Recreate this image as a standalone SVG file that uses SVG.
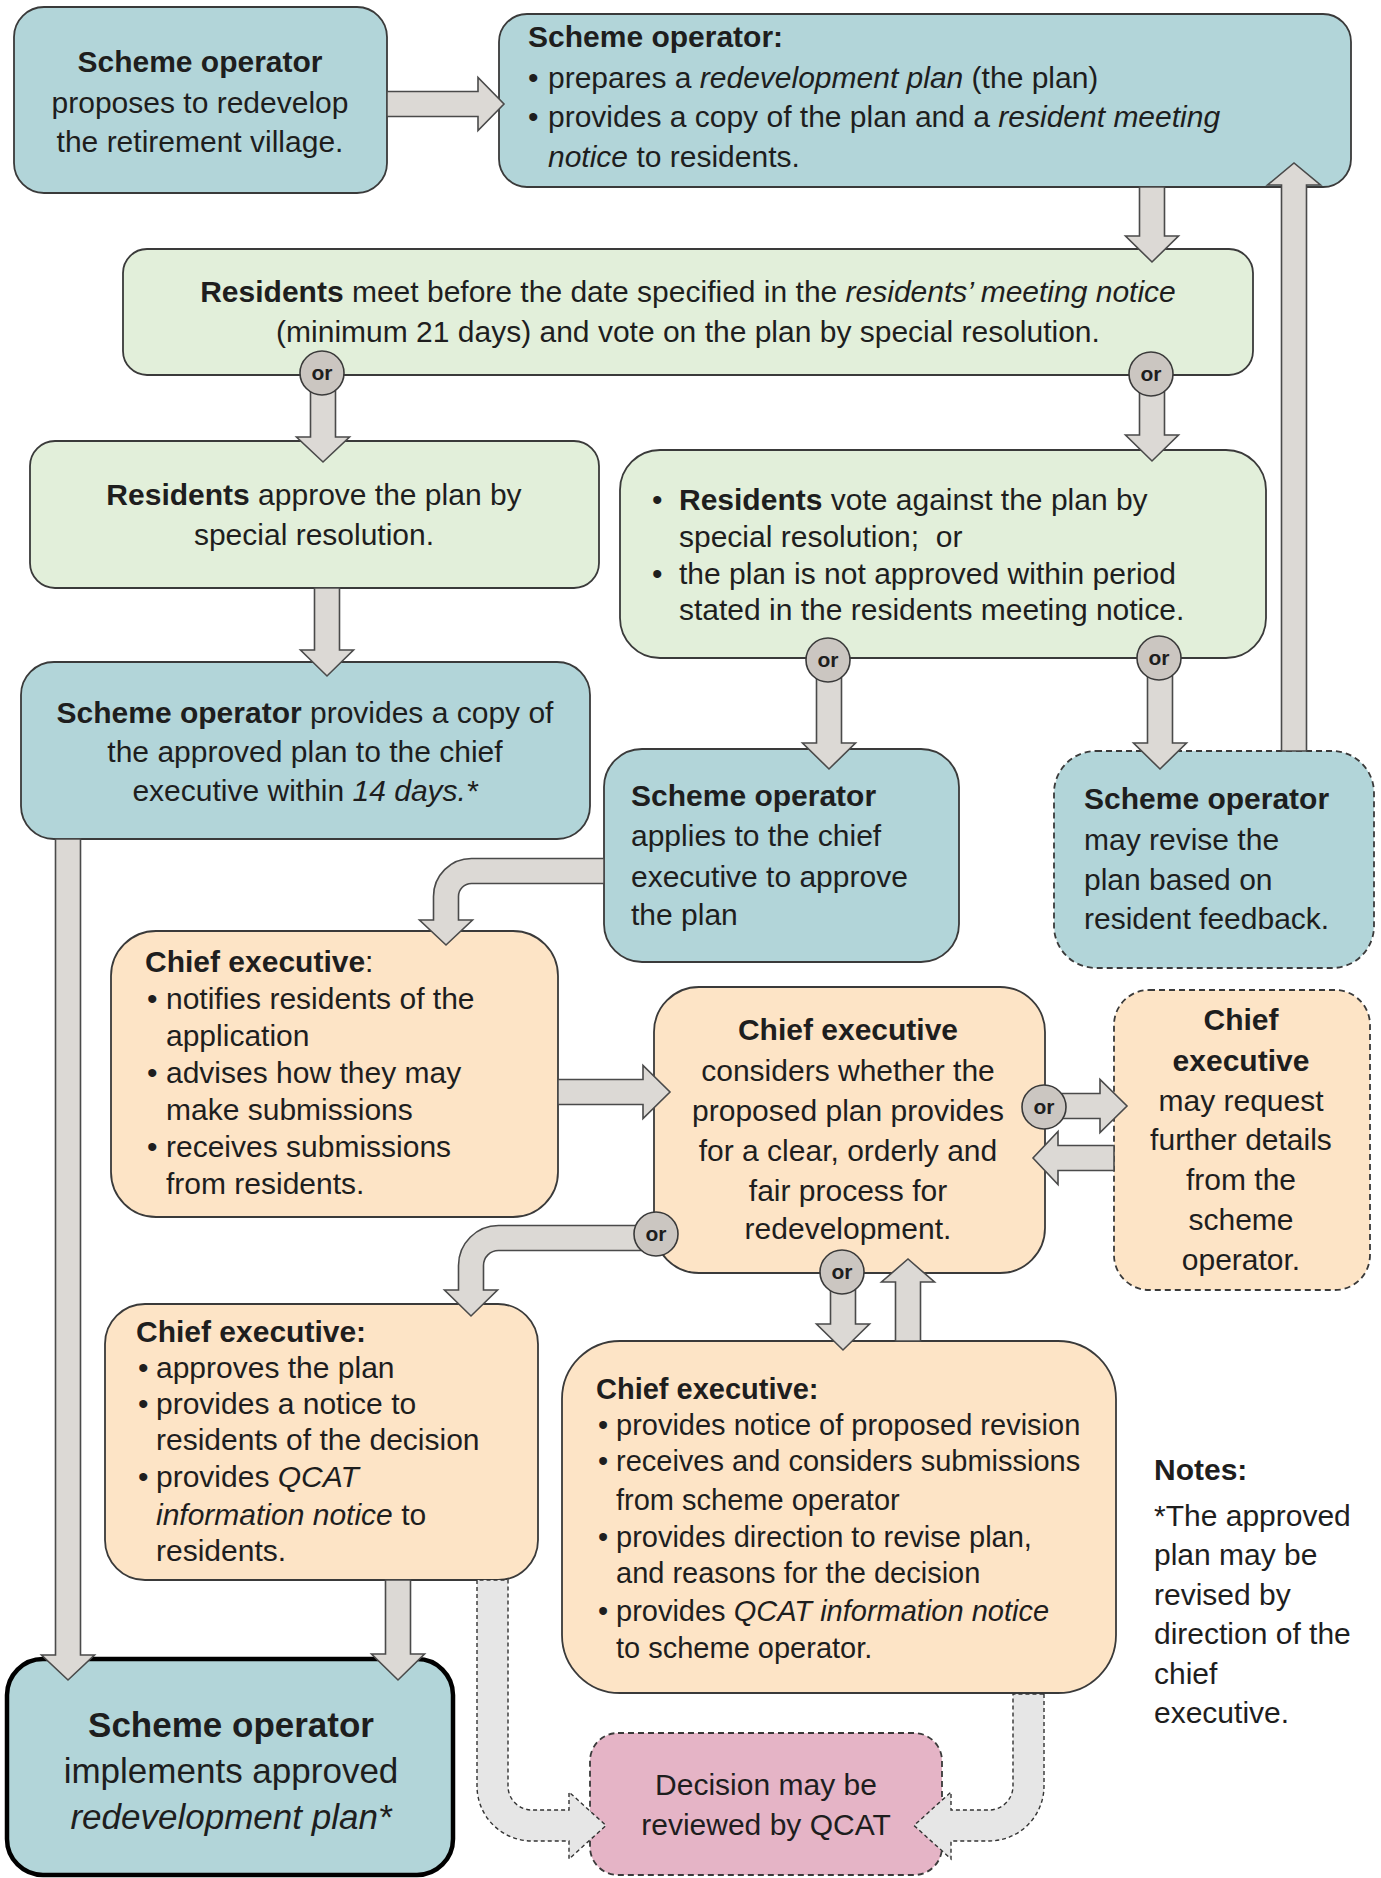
<svg xmlns="http://www.w3.org/2000/svg" width="1381" height="1878" viewBox="0 0 1381 1878">
<style>
.box{stroke:#3a3a3a;stroke-width:1.8}
.teal{fill:#b2d5d9}
.green{fill:#e2efda}
.orange{fill:#fde4c6}
.pink{fill:#e5b4c6}
.dash{stroke-dasharray:6 4}
.thick{stroke:#000;stroke-width:4.5}
.arr{fill:#dcd9d5;stroke:#4a4a4a;stroke-width:1.6}
.darr{fill:#e6e6e6;stroke:#333;stroke-width:1.4;stroke-dasharray:4 3}
.or{fill:#cbc6c1;stroke:#3a3a3a;stroke-width:1.6}
text{font-family:"Liberation Sans",Arial,sans-serif;font-size:30px;fill:#1e1e1e}
.b{font-weight:bold}
.i{font-style:italic}
.c{text-anchor:middle}
.m{font-size:29px}
.ort{font-size:21px;font-weight:bold;text-anchor:middle}
</style>
<rect width="1381" height="1878" fill="#fff"/>

<g id="nodeA">
<rect class="box teal" x="14" y="7" width="373" height="186" rx="30"/>
<text class="c" x="200" y="72"><tspan class="b">Scheme operator</tspan></text>
<text class="c" x="200" y="113">proposes to redevelop</text>
<text class="c" x="200" y="152">the retirement village.</text>
</g>

<g id="nodeB">
<rect class="box teal" x="499" y="14" width="852" height="173" rx="28"/>
<text x="528" y="47" class="b">Scheme operator:</text>
<text x="528" y="88">•</text><text x="548" y="88">prepares a <tspan class="i">redevelopment plan</tspan> (the plan)</text>
<text x="528" y="127">•</text><text x="548" y="127">provides a copy of the plan and a <tspan class="i">resident meeting</tspan></text>
<text x="548" y="167"><tspan class="i">notice</tspan> to residents.</text>
</g>

<g id="nodeC">
<rect class="box green" x="123" y="249" width="1130" height="126" rx="24"/>
<text class="c" x="688" y="302"><tspan class="b">Residents</tspan> meet before the date specified in the <tspan class="i">residents’ meeting notice</tspan></text>
<text class="c" x="688" y="342">(minimum 21 days) and vote on the plan by special resolution.</text>
</g>

<g id="nodeD">
<rect class="box green" x="30" y="441" width="569" height="147" rx="25"/>
<text class="c" x="314" y="505"><tspan class="b">Residents</tspan> approve the plan by</text>
<text class="c" x="314" y="545">special resolution.</text>
</g>

<g id="nodeE">
<rect class="box green" x="620" y="450" width="646" height="208" rx="40"/>
<text x="652" y="510">•</text><text x="679" y="510"><tspan class="b">Residents</tspan> vote against the plan by</text>
<text x="679" y="547">special resolution;&#160; or</text>
<text x="652" y="584">•</text><text x="679" y="584">the plan is not approved within period</text>
<text x="679" y="620">stated in the residents meeting notice.</text>
</g>

<g id="nodeF">
<rect class="box teal" x="21" y="662" width="569" height="177" rx="33"/>
<text class="c" x="305" y="723"><tspan class="b">Scheme operator</tspan> provides a copy of</text>
<text class="c" x="305" y="762">the approved plan to the chief</text>
<text class="c" x="305" y="801">executive within <tspan class="i">14 days.*</tspan></text>
</g>

<g id="nodeG">
<rect class="box teal" x="604" y="749" width="355" height="213" rx="38"/>
<text x="631" y="806" class="b">Scheme operator</text>
<text x="631" y="846">applies to the chief</text>
<text x="631" y="887">executive to approve</text>
<text x="631" y="925">the plan</text>
</g>

<g id="nodeH">
<rect class="box teal dash" x="1054" y="751" width="320" height="217" rx="42"/>
<text x="1084" y="809" class="b">Scheme operator</text>
<text x="1084" y="850">may revise the</text>
<text x="1084" y="890">plan based on</text>
<text x="1084" y="929">resident feedback.</text>
</g>

<g id="nodeI">
<rect class="box orange" x="111" y="931" width="447" height="286" rx="45"/>
<text x="145" y="972"><tspan class="b">Chief executive</tspan>:</text>
<text x="147" y="1009">•</text><text x="166" y="1009">notifies residents of the</text>
<text x="166" y="1046">application</text>
<text x="147" y="1083">•</text><text x="166" y="1083">advises how they may</text>
<text x="166" y="1120">make submissions</text>
<text x="147" y="1157">•</text><text x="166" y="1157">receives submissions</text>
<text x="166" y="1194">from residents.</text>
</g>

<g id="nodeJ">
<rect class="box orange" x="654" y="987" width="391" height="286" rx="45"/>
<text class="c b" x="848" y="1040">Chief executive</text>
<text class="c" x="848" y="1081">considers whether the</text>
<text class="c" x="848" y="1121">proposed plan provides</text>
<text class="c" x="848" y="1161">for a clear, orderly and</text>
<text class="c" x="848" y="1201">fair process for</text>
<text class="c" x="848" y="1239">redevelopment.</text>
</g>

<g id="nodeK">
<rect class="box orange dash" x="1114" y="990" width="256" height="300" rx="35"/>
<text class="c b" x="1241" y="1030">Chief</text>
<text class="c b" x="1241" y="1071">executive</text>
<text class="c" x="1241" y="1111">may request</text>
<text class="c" x="1241" y="1150">further details</text>
<text class="c" x="1241" y="1190">from the</text>
<text class="c" x="1241" y="1230">scheme</text>
<text class="c" x="1241" y="1270">operator.</text>
</g>

<g id="nodeL">
<rect class="box orange" x="105" y="1304" width="433" height="276" rx="40"/>
<text x="136" y="1342" class="b">Chief executive:</text>
<text x="138" y="1378">•</text><text x="156" y="1378">approves the plan</text>
<text x="138" y="1414">•</text><text x="156" y="1414">provides a notice to</text>
<text x="156" y="1450">residents of the decision</text>
<text x="138" y="1487">•</text><text x="156" y="1487">provides <tspan class="i">QCAT</tspan></text>
<text x="156" y="1525"><tspan class="i">information notice</tspan> to</text>
<text x="156" y="1561">residents.</text>
</g>

<g id="nodeM">
<rect class="box orange" x="562" y="1341" width="554" height="352" rx="58"/>
<text x="596" y="1399" class="b m">Chief executive:</text>
<text x="598" y="1435" class="m">•</text><text x="616" y="1435" class="m">provides notice of proposed revision</text>
<text x="598" y="1471" class="m">•</text><text x="616" y="1471" class="m">receives and considers submissions</text>
<text x="616" y="1510" class="m">from scheme operator</text>
<text x="598" y="1547" class="m">•</text><text x="616" y="1547" class="m">provides direction to revise plan,</text>
<text x="616" y="1583" class="m">and reasons for the decision</text>
<text x="598" y="1621" class="m">•</text><text x="616" y="1621" class="m">provides <tspan class="i">QCAT information notice</tspan></text>
<text x="616" y="1658" class="m">to scheme operator.</text>
</g>

<g id="nodeN">
<rect class="teal thick" x="7" y="1659" width="446" height="216" rx="36"/>
<text class="c b" x="231" y="1737" style="font-size:35px">Scheme operator</text>
<text class="c" x="231" y="1783" style="font-size:35px">implements approved</text>
<text class="c i" x="231" y="1829" style="font-size:35px">redevelopment plan*</text>
</g>

<g id="nodeO">
<rect class="box pink dash" x="590" y="1733" width="352" height="142" rx="28"/>
<text class="c" x="766" y="1795">Decision may be</text>
<text class="c" x="766" y="1835">reviewed by QCAT</text>
</g>

<g id="notes">
<text x="1154" y="1480" class="b">Notes:</text>
<text x="1154" y="1526">*The approved</text>
<text x="1154" y="1565">plan may be</text>
<text x="1154" y="1605">revised by</text>
<text x="1154" y="1644">direction of the</text>
<text x="1154" y="1684">chief</text>
<text x="1154" y="1723">executive.</text>
</g>

<g id="connectors">
<path class="arr" d="M387,91.5 H478 V77.5 L504,104 L478,130.5 V116.5 H387 Z"/>
<path class="arr" d="M1139.5,187 H1164.5 V236 H1178.5 L1152,262 L1125.5,236 H1139.5 Z"/>
<path class="arr" d="M310.5,385 H335.5 V437 H349.5 L323,462 L296.5,437 H310.5 Z"/>
<path class="arr" d="M1139.5,385 H1164.5 V435 H1178.5 L1152,461 L1125.5,435 H1139.5 Z"/>
<path class="arr" d="M314.5,588 H339.5 V650 H353.5 L327,676 L300.5,650 H314.5 Z"/>
<path class="arr" d="M816.5,670 H841.5 V743 H855.5 L829,769 L802.5,743 H816.5 Z"/>
<path class="arr" d="M1147.5,670 H1172.5 V743 H1186.5 L1160,769 L1133.5,743 H1147.5 Z"/>
<path class="arr" d="M1281.5,751 V185 H1267.5 L1294,163 L1320.5,185 H1306.5 V751 Z"/>
<path class="arr" d="M55.5,839 H80.5 V1655 H94.5 L68,1680 L41.5,1655 H55.5 Z"/>
<path class="arr" d="M385.5,1580 H410.5 V1654 H424.5 L398,1680 L371.5,1654 H385.5 Z"/>
<path class="arr" d="M604,858.5 H471.5 A38,38 0 0 0 433.5,896.5 V920 H419.5 L446,945 L472.5,920 H458.5 V896.5 A13,13 0 0 1 471.5,883.5 H604 Z"/>
<path class="arr" d="M558,1079.5 H643 V1065.5 L670,1092 L643,1118.5 V1104.5 H558 Z"/>
<path class="arr" d="M1055,1093.5 H1100 V1079.5 L1127,1106 L1100,1132.5 V1118.5 H1055 Z"/>
<path class="arr" d="M1114,1145.5 H1058 V1131.5 L1033,1158 L1058,1184.5 V1170.5 H1114 Z"/>
<path class="arr" d="M650,1225.5 H498.5 A40,40 0 0 0 458.5,1265.5 V1290 H444.5 L471,1316 L497.5,1290 H483.5 V1265.5 A15,15 0 0 1 498.5,1250.5 H650 Z"/>
<path class="arr" d="M830.5,1285 H855.5 V1324 H869.5 L843,1350 L816.5,1324 H830.5 Z"/>
<path class="arr" d="M895.5,1341 V1282 H881.5 L908,1259 L934.5,1282 H920.5 V1341 Z"/>
<path class="darr" d="M477,1580 V1786 A55,55 0 0 0 532,1841 H569 V1859 L606,1825.5 L569,1792 V1810 H532 A24,24 0 0 1 508,1786 V1580 Z"/>
<path class="darr" d="M1044,1694 V1786 A55,55 0 0 1 989,1841 H951 V1859 L914,1825.5 L951,1792 V1810 H989 A24,24 0 0 0 1013,1786 V1694 Z"/>
<circle class="or" cx="322" cy="373" r="22"/><text class="ort" x="322" y="380">or</text>
<circle class="or" cx="1151" cy="374" r="22"/><text class="ort" x="1151" y="381">or</text>
<circle class="or" cx="828" cy="660" r="22"/><text class="ort" x="828" y="667">or</text>
<circle class="or" cx="1159" cy="658" r="22"/><text class="ort" x="1159" y="665">or</text>
<circle class="or" cx="1044" cy="1107" r="22"/><text class="ort" x="1044" y="1114">or</text>
<circle class="or" cx="656" cy="1234" r="22"/><text class="ort" x="656" y="1241">or</text>
<circle class="or" cx="842" cy="1272" r="22"/><text class="ort" x="842" y="1279">or</text>
</g>
</svg>
